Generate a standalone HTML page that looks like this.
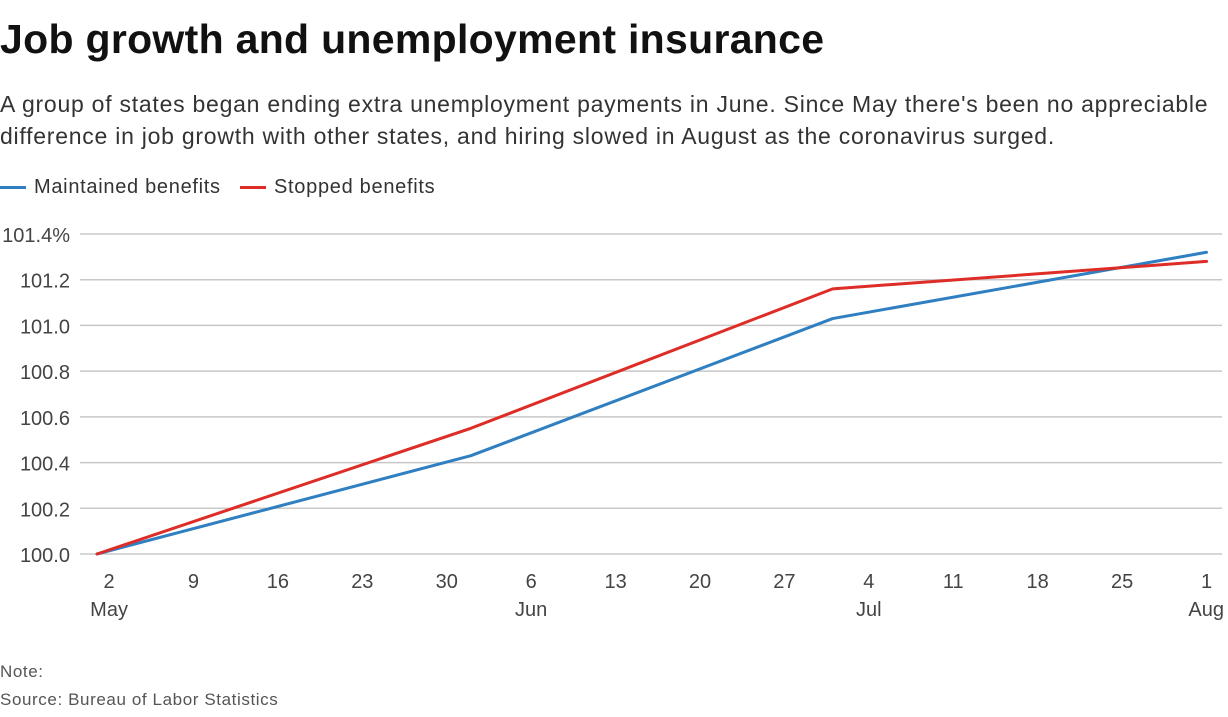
<!DOCTYPE html>
<html><head><meta charset="utf-8"><style>
body{margin:0;background:#fff;font-family:"Liberation Sans",sans-serif;color:#222;}
#wrap{position:relative;width:1228px;height:717px;overflow:hidden;}
h1{position:absolute;left:0;top:16px;margin:0;font-size:41px;font-weight:bold;color:#111;letter-spacing:0.3px;}
.sub{position:absolute;left:0;top:88px;width:1228px;font-size:23px;line-height:32px;color:#333;letter-spacing:0.75px;}
.leg{position:absolute;top:176px;font-size:20px;color:#333;letter-spacing:0.7px;}
.leg span.sw{display:inline-block;width:26px;height:3px;vertical-align:middle;margin-right:8px;}
.foot{position:absolute;left:0;font-size:17px;color:#555;letter-spacing:0.6px;}
svg text{font-family:"Liberation Sans",sans-serif;}
</style></head><body>
<div id="wrap">
<h1>Job growth and unemployment insurance</h1>
<div class="sub">A group of states began ending extra unemployment payments in June. Since May there's been no appreciable difference in job growth with other states, and hiring slowed in August as the coronavirus surged.</div>
<div class="leg" style="left:0"><span class="sw" style="background:#2f7fc1"></span>Maintained benefits</div>
<div class="leg" style="left:240px"><span class="sw" style="background:#de2d26"></span>Stopped benefits</div>
<svg id="chart" width="1228" height="717" style="position:absolute;left:0;top:0"></svg>
<div class="foot" style="top:662px">Note:</div>
<div class="foot" style="top:690px">Source: Bureau of Labor Statistics</div>
</div>
<script>
const yTicks=[100.0,100.2,100.4,100.6,100.8,101.0,101.2,101.4];
const yTickLabels=["100.0","100.2","100.4","100.6","100.8","101.0","101.2","101.4%"];
const xTickDays=[1,8,15,22,29,36,43,50,57,64,71,78,85,92];
const xTickLabels=["2","9","16","23","30","6","13","20","27","4","11","18","25","1"];
const xMonthLabels=["May","","","","","Jun","","","","Jul","","","","Aug"];
const pointDays=[0,31,61,92];
const maintained=[100.0,100.43,101.03,101.32];
const stopped=[100.0,100.55,101.16,101.28];
const NS="http://www.w3.org/2000/svg";
const svg=document.getElementById('chart');
function xS(d){return 97+d*12.06;}
function yS(v){return 554-(v-100)*(320/1.4);}
function mk(t,a){const e=document.createElementNS(NS,t);for(const k in a)e.setAttribute(k,a[k]);svg.appendChild(e);return e;}
yTicks.forEach((v,i)=>{
 const l=mk('line',{x1:80,x2:1222,y1:yS(v),y2:yS(v),stroke:'#c8c8c8','stroke-width':1.5});
 
 
 const t=mk('text',{x:70,y:yS(v)+8,'text-anchor':'end','font-size':20,fill:'#444'});
 t.textContent=yTickLabels[i];
 
 
});
xTickDays.forEach((d,i)=>{
 const t=mk('text',{x:xS(d),y:588,'text-anchor':'middle','font-size':20,fill:'#444'});
 t.textContent=xTickLabels[i];
 
 
 if(xMonthLabels[i]){
  let anchor='middle';
  if(i===xTickDays.length-1)anchor='end';
  const m=mk('text',{x:i===xTickDays.length-1?1224:xS(d),y:616,'text-anchor':anchor,'font-size':20,fill:'#444'});
  m.textContent=xMonthLabels[i];
  
  
 }
});
function series(vals,color,name){
 const p=mk('polyline',{points:vals.map((v,i)=>xS(pointDays[i])+','+yS(v)).join(' '),fill:'none',stroke:color,'stroke-width':3,'stroke-linejoin':'round','stroke-linecap':'round'});
 
 
}
series(maintained,'#2f7fc1','line-maintained-benefits');
series(stopped,'#de2d26','line-stopped-benefits');
</script>
</body></html>
